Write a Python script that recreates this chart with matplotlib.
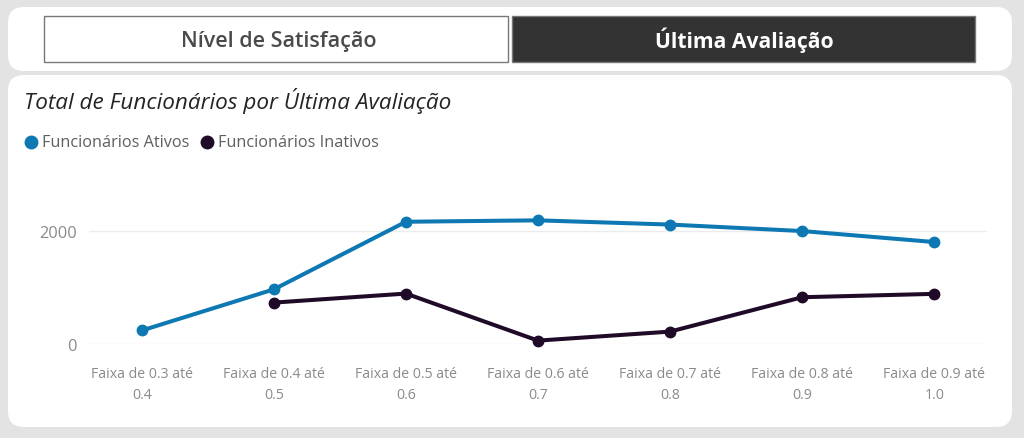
import matplotlib.pyplot as plt
from matplotlib.patches import FancyBboxPatch, Rectangle
import numpy as np

plt.rcParams['font.family'] = ['Open Sans', 'DejaVu Sans']

# data
faixas = ['Faixa de 0.3 até\n0.4', 'Faixa de 0.4 até\n0.5', 'Faixa de 0.5 até\n0.6',
          'Faixa de 0.6 até\n0.7', 'Faixa de 0.7 até\n0.8', 'Faixa de 0.8 até\n0.9',
          'Faixa de 0.9 até\n1.0']
ativos = [240, 970, 2170, 2195, 2120, 2005, 1810]
inativos = [np.nan, 735, 895, 60, 220, 830, 890]
serie_nomes = ['Funcionários Ativos', 'Funcionários Inativos']
serie_cores = ['#0E78B3', '#1F0A28']

W, H = 1024, 439
fig = plt.figure(figsize=(W / 100, H / 100), dpi=100, facecolor='#e3e3e3')

# background layer in pixel units
bg = fig.add_axes([0, 0, 1, 1], zorder=0)
bg.set_xlim(0, W)
bg.set_ylim(H, 0)
bg.axis('off')

bg.add_patch(FancyBboxPatch((8, 8), 1004, 64, boxstyle='round,pad=0,rounding_size=16',
                            fc='white', ec='none'))
bg.add_patch(FancyBboxPatch((8, 76), 1004, 352, boxstyle='round,pad=0,rounding_size=16',
                            fc='white', ec='none'))
bg.add_patch(Rectangle((44, 17), 464, 46, fc='white', ec='#777777', lw=1))
bg.add_patch(Rectangle((512, 17), 463, 46, fc='#333333', ec='#777777', lw=1))
bg.text(279, 41, 'Nível de Satisfação', ha='center', va='center', fontsize=15.5,
        color='#4a4a4a', fontweight='semibold')
bg.text(744, 40, 'Última Avaliação', ha='center', va='center', fontsize=15.2,
        color='white', fontweight='bold')

bg.text(24, 101, 'Total de Funcionários por Última Avaliação', ha='left', va='center',
        fontsize=16.2, style='italic', color='#252423')

# legend
lx = 31
for nome, cor in zip(serie_nomes, serie_cores):
    bg.plot(lx, 143, 'o', ms=9, color=cor)
    t = bg.text(lx + 11, 143, nome, ha='left', va='center', fontsize=11.7, color='#605e5c')
    fig.canvas.draw()
    bb = t.get_window_extent()
    lx = bb.x1 + 18

# chart
ax = fig.add_axes([89 / W, (H - 345) / H, 898 / W, 180 / H], zorder=1)
ax.patch.set_alpha(0)
x = np.arange(len(faixas))
for vals, cor in zip([ativos, inativos], serie_cores):
    ax.plot(x, vals, '-o', color=cor, lw=2.9, ms=7.5, clip_on=False)

ax.set_xlim(-0.4, 6.4)
ax.set_ylim(0, 3195)
ax.set_yticks([0, 2000])
ax.set_yticklabels(['0', '2000'])
ax.set_xticks(x)
ax.set_xticklabels(faixas, linespacing=1.55)
ax.tick_params(axis='x', length=0, pad=16, labelsize=10.2, labelcolor='#8a8a8a')
ax.tick_params(axis='y', length=0, pad=9, labelsize=11.8, labelcolor='#8a8a8a')
ax.grid(axis='y', color='#ececec', lw=1)
ax.set_axisbelow(True)
for s in ax.spines.values():
    s.set_visible(False)

fig.savefig('out.png', dpi=100, facecolor=fig.get_facecolor())
